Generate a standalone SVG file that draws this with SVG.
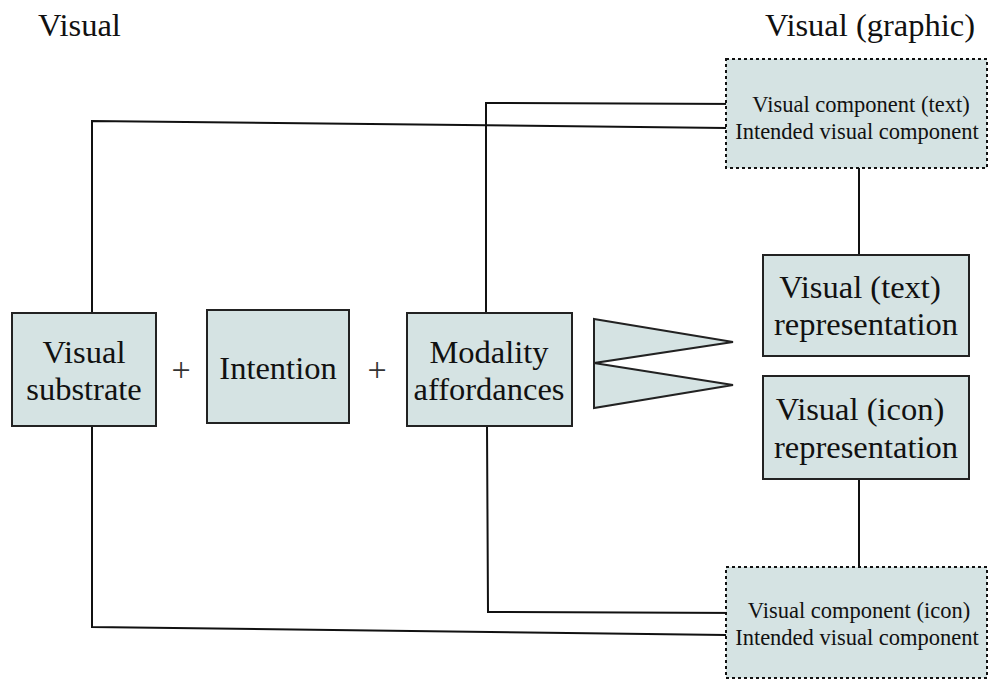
<svg xmlns="http://www.w3.org/2000/svg" width="989" height="680" viewBox="0 0 989 680">
  <style>
    .box { fill: #d5e3e3; stroke: #222; stroke-width: 2; }
    .dot { fill: #d5e3e3; stroke: #111; stroke-width: 2; stroke-dasharray: 3 3; }
    .conn { fill: none; stroke: #111; stroke-width: 2; }
    text { font-family: "Liberation Serif", "Times New Roman", serif; fill: #111; text-anchor: middle; }
    .big { font-size: 32.5px; }
    .plus { font-size: 34px; fill: #333; }
    .small { font-size: 22.5px; }
    .title { font-size: 32.5px; }
  </style>
  <rect width="989" height="680" fill="#ffffff"/>

  <!-- headings -->
  <text class="title" x="38" y="36" style="text-anchor:start">Visual</text>
  <text class="title" x="975" y="36" style="text-anchor:end">Visual (graphic)</text>

  <!-- connectors -->
  <g id="connectors">
    <polyline class="conn" points="92,313 92,121 726,128"/>
    <polyline class="conn" points="486,313 486,103 742,104"/>
    <polyline class="conn" points="92,426 92,627 726,635"/>
    <polyline class="conn" points="487,426 488,612 743,613"/>
    <line class="conn" x1="859" y1="168" x2="859" y2="255"/>
    <line class="conn" x1="859" y1="479" x2="859" y2="567"/>
  </g>

  <g id="substrate">
    <rect class="box" x="12" y="313" width="144" height="113"/>
    <text class="big" x="84" y="363">Visual</text>
    <text class="big" x="84" y="400">substrate</text>
  </g>

  <text class="plus" x="181" y="381">+</text>

  <g id="intention">
    <rect class="box" x="207" y="310" width="142" height="113"/>
    <text class="big" x="278" y="379">Intention</text>
  </g>

  <text class="plus" x="377" y="381">+</text>

  <g id="modality">
    <rect class="box" x="407" y="313" width="165" height="113"/>
    <text class="big" x="489" y="363">Modality</text>
    <text class="big" x="489" y="400">affordances</text>
  </g>

  <g id="split">
    <polygon class="box" points="594,319 733,342 594,363"/>
    <polygon class="box" points="594,363 733,385 594,408"/>
  </g>

  <g id="component-text">
    <rect class="dot" x="726" y="59" width="261" height="109"/>
    <text class="small" x="861" y="112">Visual component (text)</text>
    <text class="small" x="857" y="139">Intended visual component</text>
  </g>

  <g id="repr-text">
    <rect class="box" x="763" y="255" width="206" height="101"/>
    <text class="big" x="860" y="298">Visual (text)</text>
    <text class="big" x="866" y="335">representation</text>
  </g>

  <g id="repr-icon">
    <rect class="box" x="763" y="376" width="206" height="103"/>
    <text class="big" x="860" y="420">Visual (icon)</text>
    <text class="big" x="866" y="458">representation</text>
  </g>

  <g id="component-icon">
    <rect class="dot" x="726" y="567" width="261" height="111"/>
    <text class="small" x="859" y="618">Visual component (icon)</text>
    <text class="small" x="857" y="645">Intended visual component</text>
  </g>
</svg>
